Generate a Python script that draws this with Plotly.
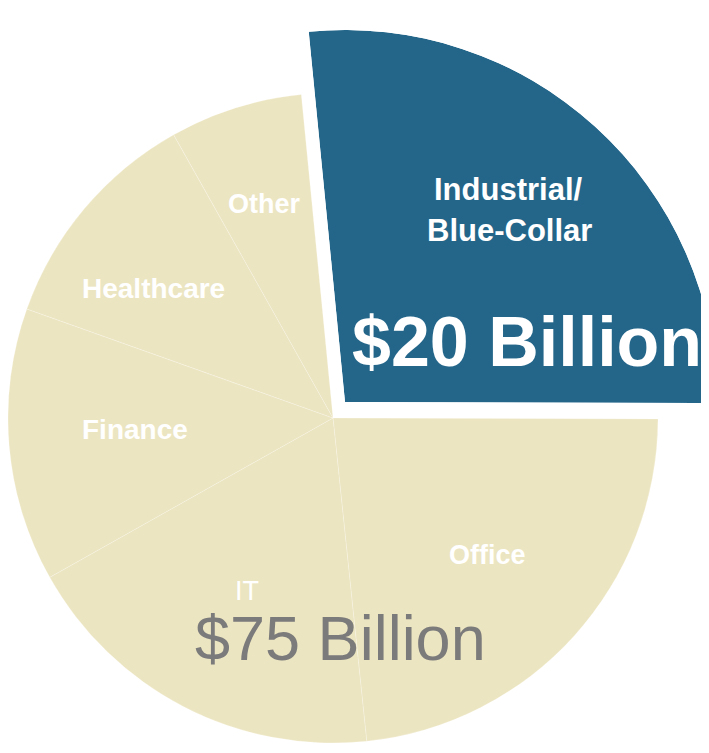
import plotly.graph_objects as go

# ---- data (shares, %) ----
categories = ["Industrial/Blue-Collar", "Office", "IT", "Finance", "Healthcare", "Other"]
shares = [26.6, 23.3, 18.5, 13.6, 11.4, 6.6]
total_labels = ["$20 Billion", "$75 Billion"]

BEIGE = "#ECE5C1"
BLUE = "#23668A"
FONT = "Liberation Sans, Arial, Helvetica, sans-serif"
W, H = 709, 753
OFF = 8      # page body margin (px) that shifts the figure on screen
ROT = -5.6   # clockwise degrees from 12 o'clock where the first slice starts


def px_x(sx):
    return (sx - OFF) / W


def px_y(sy):
    return 1 - (sy - OFF) / H


fig = go.Figure()

# Beige pie (highlighted segment left empty) -- centre (333,418) on screen, radius 325
cx, cy, r = 333, 418, 325
fig.add_trace(go.Pie(
    labels=categories,
    values=shares,
    sort=False,
    direction="clockwise",
    rotation=ROT,
    marker=dict(
        colors=["rgba(0,0,0,0)"] + [BEIGE] * (len(categories) - 1),
        line=dict(color=["rgba(0,0,0,0)"] + ["rgba(255,255,255,0.22)"] * (len(categories) - 1),
                  width=1),
    ),
    textinfo="none",
    hoverinfo="label+percent",
    showlegend=False,
    domain=dict(x=[max(0, px_x(cx - r)), px_x(cx + r)], y=[px_y(cy + r), px_y(cy - r)]),
))

# Exploded, enlarged highlighted segment drawn as a polar sector
blue_width = 360 * shares[0] / sum(shares)
blue_center = ROT + blue_width / 2
sector = [90 - (ROT + blue_width), 90 - ROT]
ax, ay, R = 345, 402, 372   # apex on screen and radius
fig.add_trace(go.Barpolar(
    theta=[blue_center],
    r=[1],
    width=[blue_width],
    marker=dict(color=BLUE, line=dict(width=0)),
    name=categories[0],
    showlegend=False,
    subplot="polar",
))

fig.update_layout(
    width=W, height=H,
    margin=dict(l=0, r=0, t=0, b=0),
    paper_bgcolor="white",
    plot_bgcolor="white",
    polar=dict(
        domain=dict(x=[px_x(ax - 0.0976 * R), min(1.0, px_x(ax + R))],
                    y=[px_y(ay + 1), px_y(ay - R)]),
        sector=sector,
        bgcolor="rgba(0,0,0,0)",
        radialaxis=dict(range=[0, 1], visible=False),
        angularaxis=dict(rotation=90, direction="clockwise", visible=False),
        hole=0,
    ),
)


def ann(text, sx, sy, size, color="white", bold=True):
    fig.add_annotation(
        x=px_x(sx), y=px_y(sy), xref="paper", yref="paper",
        text=f"<b>{text}</b>" if bold else text,
        showarrow=False, xanchor="center", yanchor="middle",
        font=dict(family=FONT, size=size, color=color),
    )


ann("Industrial/", 508, 189, 31)
ann("Blue-Collar", 509, 231, 31)
ann(total_labels[0], 527, 342, 70)
ann("Other", 264, 204, 27)
ann("Healthcare", 153, 288, 28)
ann("Finance", 135, 430, 28)
ann("IT", 247, 591, 27, bold=False)
ann("Office", 488, 555, 27)
ann(total_labels[1], 340, 638, 63, color="#7B7B7B", bold=False)

fig.write_html("out.html")
